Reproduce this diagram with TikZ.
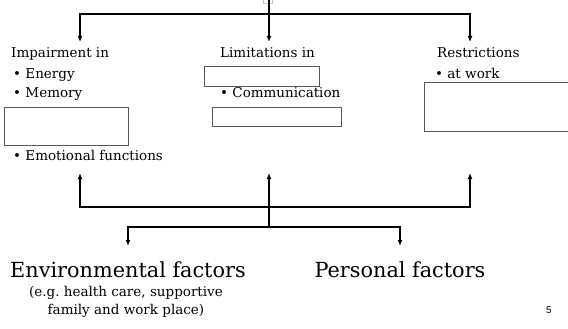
\documentclass[tikz,border=0pt]{standalone}
\usepackage{fontspec}
\setmainfont{DejaVu Serif}
\newfontfamily\pagefont{Liberation Sans}
\usetikzlibrary{arrows.meta}
\frenchspacing

\begin{document}
\begin{tikzpicture}[x=1pt, y=-1pt,
    link/.style={line width=1.5pt},
    arr/.style={link, -{Latex[length=6pt,width=5pt]}},
    blank/.style={draw=black!65, line width=0.8pt},
    item/.style={anchor=base west, inner sep=0pt, font=\fontsize{13.5}{16}\selectfont},
    factor/.style={anchor=base, inner sep=0pt, font=\fontsize{20.8}{24}\selectfont}
  ]
  \useasboundingbox (0,0) rectangle (568,329);

  % junction points
  \coordinate (top)  at (269,0);
  \coordinate (hub)  at (269,14);
  \coordinate (impA) at (80,42);
  \coordinate (limA) at (269,42);
  \coordinate (resA) at (470,42);
  \coordinate (impB) at (80,173);
  \coordinate (limB) at (269,173);
  \coordinate (resB) at (470,173);
  \coordinate (join) at (269,207);
  \coordinate (fork) at (269,227);
  \coordinate (envA) at (128,246);
  \coordinate (perA) at (400,246);

  \node[draw=black!25, line width=0.5pt, minimum size=9pt, inner sep=0pt] (handle) at (268,-1) {};

  % body functions, activities, participation
  \node[item] (imp) at (11,58) {Impairment in};
  \node[item] (energy) at (13,78) {• Energy};
  \node[item] (memory) at (13,98) {• Memory};
  \draw[blank] (4,107) rectangle (128,145);
  \node[item] (emo) at (13,160) {• Emotional functions};

  \node[item] (lim) at (220,58) {Limitations in};
  \draw[blank] (204,66) rectangle (319,86);
  \node[item] (comm) at (220,97) {• Communication};
  \draw[blank] (212,107) rectangle (341,126);

  \node[item] (res) at (437,58) {Restrictions};
  \node[item] (work) at (435,78) {• at work};
  \draw[blank] (568,82) -| (424,131) -- (568,131);

  % contextual factors
  \node[factor] (env) at (128,277) {Environmental factors};
  \node[anchor=north, inner sep=0pt, align=center, font=\fontsize{13.5}{18}\selectfont] (envex) at (126,286)
    {(e.g. health care, supportive\\family and work place)};
  \node[factor] (per) at (400,277) {Personal factors};

  \node[anchor=base, inner sep=0pt, font=\pagefont\fontsize{10}{12}\selectfont] (page) at (549,313) {5};

  % connectors
  \draw[link] (top) -- (hub);
  \draw[arr] (hub) -| (impA);
  \draw[arr] (hub) -| (resA);
  \draw[arr] (hub) -- (limA);

  \draw[arr] (join) -| (impB);
  \draw[arr] (join) -| (resB);
  \draw[arr] (fork) -- (limB);
  \draw[arr] (fork) -| (envA);
  \draw[arr] (fork) -| (perA);
\end{tikzpicture}
\end{document}
